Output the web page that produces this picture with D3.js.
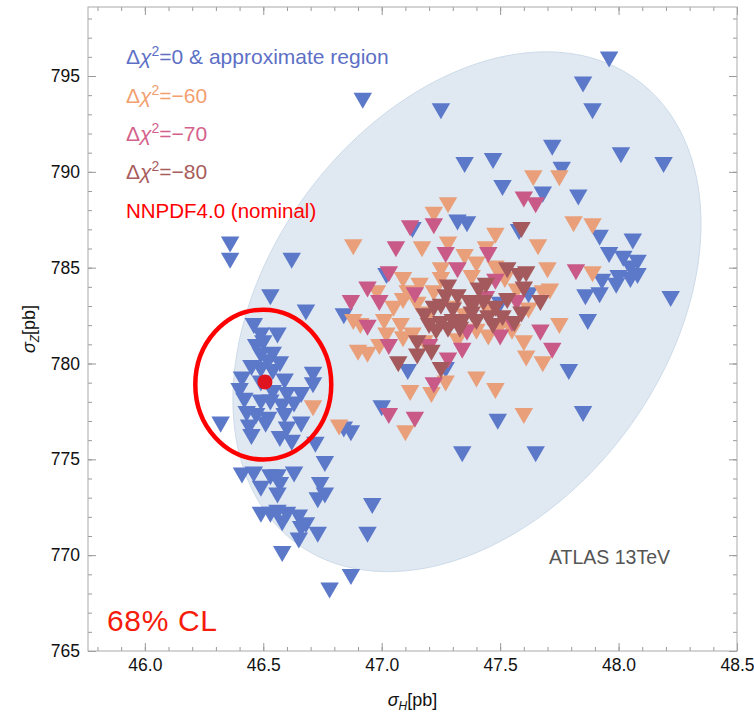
<!DOCTYPE html>
<html>
<head>
<meta charset="utf-8">
<script src="https://cdn.jsdelivr.net/npm/d3@7"></script>
<style>
  body { margin: 0; background: #fff; }
  text { font-family: "Liberation Sans", Arial, Helvetica, sans-serif; }
</style>
</head>
<body>
<div class="chart"></div>
<script>
// sigma_H [pb], sigma_Z [pb] for each replica
var blueX = [47.96,46.92,47.85,47.89,47.25,47.72,48.01,48.19,47.35,47.47,47.76,47.51,47.68,47.83,47.32,47.36,47.13,47.58,47.92,48.06,
  46.36,46.36,46.62,46.53,46.68,46.84,47.02,
  47.96,48.02,48.08,48.05,48.00,48.08,48.05,47.93,47.99,47.86,47.92,48.22,47.87,
  47.62,47.50,47.27,47.79,47.85,47.49,47.65,47.11,47.00,47.34,46.84,46.87,
  46.71,46.71,46.46,46.49,46.50,46.49,46.54,46.52,46.49,46.54,46.41,46.49,46.59,46.40,46.54,46.60,46.66,46.42,46.49,46.53,46.58,
  46.43,46.47,46.52,46.59,46.44,46.51,46.60,46.66,46.57,46.32,46.72,
  46.47,46.56,46.45,46.57,46.63,46.45,46.62,
  46.76,46.41,46.46,46.53,46.56,46.63,46.49,46.57,46.56,46.74,46.76,46.73,46.96,46.49,46.53,46.56,46.60,46.58,46.65,46.68,46.66,
  46.73,46.94,46.65,46.58,46.87,46.78];
var blueY = [796.0,793.85,794.7,793.3,793.3,791.4,791.0,790.5,790.5,790.7,790.25,789.3,788.95,788.8,787.5,787.4,787.1,787.0,786.7,786.5,
  786.35,785.5,785.5,783.6,782.8,782.6,784.7,
  785.8,785.6,785.4,785.1,784.6,784.7,784.5,784.4,784.2,783.6,783.7,783.5,782.3,
  783.7,783.2,779.8,779.7,777.5,777.1,775.4,779.7,777.8,775.4,776.7,776.5,
  779.55,779.0,782.1,781.6,781.2,780.55,780.6,780.2,779.8,779.7,779.3,779.1,779.2,778.7,778.6,778.5,778.5,778.2,778.1,778.1,777.9,
  777.5,777.4,777.2,777.4,776.8,776.95,776.7,776.95,776.2,776.95,775.9,
  781.0,781.6,779.9,780.1,778.0,776.3,776.0,
  774.9,774.3,774.35,774.2,774.2,774.35,773.6,773.8,773.25,773.8,773.25,773.0,772.7,772.25,772.25,772.35,772.25,771.8,772.1,771.7,771.5,
  771.2,771.2,770.9,770.2,769.0,768.3];

var orangeX = [47.64,47.75,47.28,47.22,47.81,47.89,46.88,47.17,47.28,47.48,47.44,47.66,47.40,47.48,47.25,47.89,47.09,47.16,46.98,47.11,
  47.22,47.71,47.68,47.09,46.88,46.91,47.01,47.08,47.13,47.18,47.09,46.90,46.94,46.99,47.75,47.61,47.68,47.40,47.48,47.60,
  47.12,47.21,47.27,47.10,46.82,46.71,47.30,47.35,47.45,47.50,47.20,47.40,47.55,47.62,47.52,47.57,
  47.05,47.15,47.38,47.45,47.32,47.60,47.50,47.02,47.25,47.35,47.70];
var orangeY = [789.8,789.8,788.4,787.9,787.4,787.3,786.2,786.1,786.35,786.8,786.1,786.2,785.3,785.1,785.0,784.8,784.5,784.2,783.8,783.8,
  783.8,783.9,783.8,783.4,782.3,782.1,782.3,782.1,781.6,781.2,781.4,780.7,780.6,781.0,782.1,780.4,780.1,779.3,778.7,777.4,
  778.6,778.5,779.1,776.5,776.8,777.8,783.0,782.6,782.8,782.0,782.7,781.8,781.8,782.9,784.5,783.9,
  783.0,783.2,784.6,781.5,781.3,781.2,784.9,781.6,784.5,785.7,785.0];

var pinkX = [47.12,47.22,47.60,47.65,47.27,47.45,47.82,47.03,46.94,46.99,46.87,47.14,46.94,47.44,47.57,47.55,47.67,47.72,47.36,47.34,
  47.28,47.03,47.22,47.03,47.14,47.06,47.20,47.50,47.32,47.48];
var pinkY = [787.2,787.3,788.7,788.4,785.8,785.8,784.9,784.8,784.0,783.3,783.3,783.7,782.0,783.5,783.3,782.2,781.75,780.8,781.75,780.8,
  780.3,781.0,779.0,777.4,777.2,786.1,781.0,781.5,785.0,784.4];

var brownX = [47.59,47.53,47.58,47.61,47.28,47.41,47.39,47.67,47.59,47.51,47.25,47.22,47.37,47.30,47.20,47.25,47.30,47.34,47.40,47.45,
  47.48,47.07,47.15,47.25,47.18,47.23,47.28,47.33,47.38,47.43,47.47,47.53,47.56,47.27,47.32,47.44,47.60,47.15,47.21];
var brownY = [787.1,785.0,784.7,784.8,784.1,783.95,783.2,783.3,782.7,782.5,783.1,783.0,783.3,782.9,782.1,782.2,782.3,782.3,782.3,782.5,
  783.0,780.1,780.5,779.8,782.6,781.8,781.9,781.9,782.7,783.3,782.1,783.4,782.2,783.6,783.6,784.2,784.0,781.2,780.7];

// ATLAS 13TeV region (centre, spreads, correlation) and NNPDF4.0 nominal
var atlasCenter = [47.36, 782.7], atlasSd = [0.988, 13.56], atlasRho = 0.338;
var nominal = [46.507, 779.04];
var clCenter = [46.50, 778.9], clRadii = [0.287, 3.91];

var xTicks = [46.0, 46.5, 47.0, 47.5, 48.0, 48.5];
var yTicks = [765, 770, 775, 780, 785, 790, 795];

var legendLabels = ["=0 & approximate region", "=\u221260", "=\u221270", "=\u221280"];
var colors = ["#5b78c9", "#e89f7a", "#c95a87", "#a45a5c"];
var legendColors = ["#5d70c6", "#f2a070", "#d4618b", "#a85c5b"];

var width = 754, height = 715;
var margin = {left: 88, right: 17, top: 7, bottom: 64};

var svg = d3.select(".chart").append("svg")
  .attr("width", width).attr("height", height);

var x = d3.scaleLinear().domain([45.76, 48.5]).range([margin.left, width - margin.right]);
var y = d3.scaleLinear().domain([765, 798.6]).range([height - margin.bottom, margin.top]);

var plot = svg.append("g");

// shaded region
var ell = d3.range(0, 361, 2).map(function(a) {
  var t = a * Math.PI / 180;
  var dx = atlasSd[0] * Math.cos(t);
  var dy = atlasSd[1] * (atlasRho * Math.cos(t) + Math.sqrt(1 - atlasRho * atlasRho) * Math.sin(t));
  return [x(atlasCenter[0] + dx), y(atlasCenter[1] + dy)];
});
plot.append("path")
  .attr("d", d3.line()(ell) + "Z")
  .attr("fill", "#e0e9f2")
  .attr("stroke", "#cddbe9")
  .attr("stroke-width", 1);

var tri = d3.symbol().type(d3.symbolTriangle).size(148);

function drawSet(xs, ys, col) {
  plot.append("g").selectAll("path")
    .data(xs.map(function(v, i) { return [v, ys[i]]; }))
    .enter().append("path")
    .attr("d", tri)
    .attr("transform", function(d) { return "translate(" + x(d[0]) + "," + y(d[1]) + ") rotate(180)"; })
    .attr("fill", col);
}
drawSet(blueX, blueY, colors[0]);
drawSet(orangeX, orangeY, colors[1]);
drawSet(pinkX, pinkY, colors[2]);
drawSet(brownX, brownY, colors[3]);

// 68% CL ellipse around the nominal
plot.append("ellipse")
  .attr("cx", x(clCenter[0])).attr("cy", y(clCenter[1]))
  .attr("rx", x(clCenter[0] + clRadii[0]) - x(clCenter[0]))
  .attr("ry", y(clCenter[1]) - y(clCenter[1] + clRadii[1]))
  .attr("fill", "none")
  .attr("stroke", "#f00")
  .attr("stroke-width", 4.5);

plot.append("circle")
  .attr("cx", x(nominal[0])).attr("cy", y(nominal[1]))
  .attr("r", 7.5)
  .attr("fill", "#e0141e");

// frame and ticks
var tickCol = "#999";
var xMinor = d3.range(45.8, 48.501, 0.1);
var yMinor = d3.range(765, 798.5, 1);

function styleAxis(g) {
  g.select(".domain").remove();
  g.selectAll("line").attr("stroke", tickCol);
  g.selectAll("text").attr("font-size", "17.5px").attr("fill", "#111");
}

svg.append("g").attr("transform", "translate(0," + y.range()[0] + ")")
  .call(d3.axisBottom(x).tickValues(xMinor).tickFormat("").tickSize(-4)).call(styleAxis);
svg.append("g").attr("transform", "translate(0," + y.range()[0] + ")")
  .call(d3.axisBottom(x).tickValues(xTicks).tickFormat(d3.format(".1f")).tickSize(-8).tickPadding(8)).call(styleAxis);
svg.append("g").attr("transform", "translate(0," + y.range()[1] + ")")
  .call(d3.axisTop(x).tickValues(xMinor).tickFormat("").tickSize(-4)).call(styleAxis);
svg.append("g").attr("transform", "translate(0," + y.range()[1] + ")")
  .call(d3.axisTop(x).tickValues(xTicks).tickFormat("").tickSize(-8)).call(styleAxis);

svg.append("g").attr("transform", "translate(" + x.range()[0] + ",0)")
  .call(d3.axisLeft(y).tickValues(yMinor).tickFormat("").tickSize(-4)).call(styleAxis);
svg.append("g").attr("transform", "translate(" + x.range()[0] + ",0)")
  .call(d3.axisLeft(y).tickValues(yTicks).tickFormat(d3.format("d")).tickSize(-8).tickPadding(8)).call(styleAxis);
svg.append("g").attr("transform", "translate(" + x.range()[1] + ",0)")
  .call(d3.axisRight(y).tickValues(yMinor).tickFormat("").tickSize(-4)).call(styleAxis);
svg.append("g").attr("transform", "translate(" + x.range()[1] + ",0)")
  .call(d3.axisRight(y).tickValues(yTicks).tickFormat("").tickSize(-8)).call(styleAxis);

svg.append("rect")
  .attr("x", x.range()[0]).attr("y", y.range()[1])
  .attr("width", x.range()[1] - x.range()[0])
  .attr("height", y.range()[0] - y.range()[1])
  .attr("fill", "none").attr("stroke", "#aaa").attr("stroke-width", 1);

// axis titles
var xt = svg.append("text")
  .attr("x", (x.range()[0] + x.range()[1]) / 2).attr("y", 706)
  .attr("text-anchor", "middle").attr("font-size", "18px").attr("fill", "#111");
xt.append("tspan").attr("font-style", "italic").text("\u03c3");
xt.append("tspan").attr("font-style", "italic").attr("font-size", "12px").attr("dy", 4).text("H");
xt.append("tspan").attr("dy", -4).text("[pb]");

var yt = svg.append("text")
  .attr("transform", "translate(35," + (y.range()[0] + y.range()[1]) / 2 + ") rotate(-90)")
  .attr("text-anchor", "middle").attr("font-size", "18px").attr("fill", "#111");
yt.append("tspan").attr("font-style", "italic").text("\u03c3");
yt.append("tspan").attr("font-style", "italic").attr("font-size", "12px").attr("dy", 4).text("Z");
yt.append("tspan").attr("dy", -4).text("[pb]");

// legend
var legendY = [64, 103, 141, 179];
legendLabels.forEach(function(lab, i) {
  var t = svg.append("text")
    .attr("x", 126).attr("y", legendY[i])
    .attr("font-size", "21px").attr("fill", legendColors[i]);
  t.append("tspan").text("\u0394");
  t.append("tspan").attr("font-style", "italic").text("\u03c7");
  t.append("tspan").attr("font-size", "14px").attr("dy", -8).text("2");
  t.append("tspan").attr("dy", 8).text(lab);
});
svg.append("text")
  .attr("x", 126).attr("y", 218)
  .attr("font-size", "20.5px").attr("fill", "#ff0000")
  .text("NNPDF4.0 (nominal)");

svg.append("text")
  .attr("x", 549).attr("y", 564)
  .attr("font-size", "19.5px").attr("fill", "#555")
  .text("ATLAS 13TeV");

svg.append("text")
  .attr("x", 107).attr("y", 631)
  .attr("font-size", "30px").attr("fill", "#f51c0c")
  .attr("textLength", 110)
  .text("68% CL");
</script>
</body>
</html>
